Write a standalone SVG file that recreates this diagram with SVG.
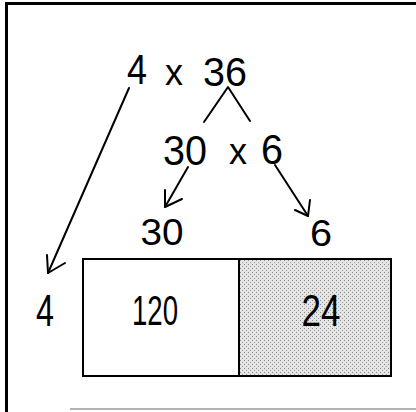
<svg xmlns="http://www.w3.org/2000/svg" width="416" height="412" viewBox="0 0 416 412">
<defs>
<style>
.t{font-family:"Liberation Sans",Arial,sans-serif;fill:#000;text-anchor:middle}
.ln{stroke:#000;stroke-width:2;fill:none;stroke-linecap:round;stroke-linejoin:round}
</style>
<pattern id="dots" width="4" height="4" patternUnits="userSpaceOnUse">
<rect width="4" height="4" fill="#e4e4e4"/>
<rect x="0" y="0" width="1" height="1" fill="#8a8a8a"/>
<rect x="2" y="2" width="1" height="1" fill="#a0a0a0"/>
</pattern>
</defs>
<rect width="416" height="412" fill="#fff"/>
<g id="frame">
<line x1="5" y1="3.5" x2="416" y2="3.5" stroke="#000" stroke-width="3"/>
<line x1="6.5" y1="2" x2="6.5" y2="412" stroke="#000" stroke-width="3"/>
<line x1="70" y1="409" x2="416" y2="409" stroke="#999" stroke-width="1.5"/>
</g>
<g id="expr1">
<text class="t" x="137" y="84" font-size="43" textLength="20" lengthAdjust="spacingAndGlyphs">4</text>
<text class="t" x="174" y="85" font-size="36">x</text>
<text class="t" x="225" y="86" font-size="40" textLength="44" lengthAdjust="spacingAndGlyphs">36</text>
</g>
<g id="expr2">
<text class="t" x="185" y="165" font-size="42" textLength="44" lengthAdjust="spacingAndGlyphs">30</text>
<text class="t" x="238" y="164" font-size="36">x</text>
<text class="t" x="272" y="164" font-size="42" textLength="22" lengthAdjust="spacingAndGlyphs">6</text>
</g>
<g id="label30">
<text class="t" x="162" y="245" font-size="36" textLength="43" lengthAdjust="spacingAndGlyphs">30</text>
</g>
<g id="label6">
<text class="t" x="321" y="246" font-size="36" textLength="22" lengthAdjust="spacingAndGlyphs">6</text>
</g>
<g id="label4">
<text class="t" x="45" y="326" font-size="44" textLength="18" lengthAdjust="spacingAndGlyphs">4</text>
</g>
<g id="cell120">
<rect x="83" y="259" width="156" height="117" fill="#fff" stroke="#000" stroke-width="2"/>
<text class="t" x="155" y="325" font-size="43" textLength="46" lengthAdjust="spacingAndGlyphs">120</text>
</g>
<g id="cell24">
<rect x="239" y="259" width="152" height="117" fill="url(#dots)" stroke="#000" stroke-width="2"/>
<text class="t" x="321" y="326" font-size="44" textLength="39" lengthAdjust="spacingAndGlyphs">24</text>
</g>
<g id="connectors">
<polyline class="ln" points="204,122 228,87 250,121"/>
<line class="ln" x1="129" y1="88" x2="48" y2="273"/>
<polyline class="ln" points="47,255 48,273 65,263"/>
<line class="ln" x1="188" y1="167" x2="165" y2="207"/>
<polyline class="ln" points="165,190 165,207 182,199"/>
<line class="ln" x1="275" y1="165" x2="308" y2="216"/>
<polyline class="ln" points="310,200 308,216 295,210"/>
</g>
</svg>
